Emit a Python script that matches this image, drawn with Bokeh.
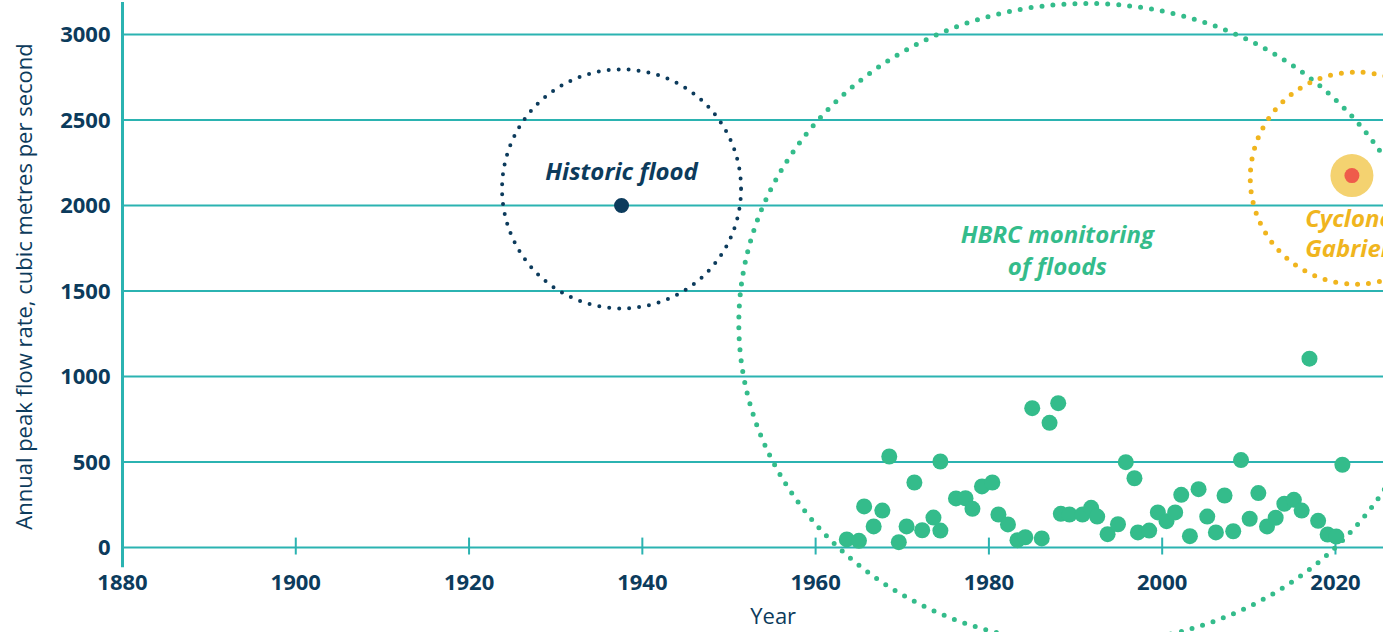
import math
from bokeh.plotting import figure
from bokeh.models import Range1d
from bokeh.core.properties import value
from bokeh.embed import file_html
from bokeh.resources import INLINE

# ---------------- data ----------------
years = [1963.6, 1965.0, 1965.6, 1966.7, 1967.7, 1968.5, 1969.6, 1970.5, 1971.4, 1972.3,
         1973.6, 1974.4, 1974.4, 1976.2, 1977.3, 1978.1, 1979.2, 1980.4, 1981.1, 1982.2,
         1983.3, 1984.2, 1985.0, 1986.1, 1987.0, 1988.0, 1988.3, 1989.3, 1990.8, 1991.8,
         1992.5, 1993.7, 1994.9, 1995.8, 1996.8, 1997.2, 1998.5, 1999.5, 2000.5, 2001.5,
         2002.2, 2003.2, 2004.2, 2005.2, 2006.2, 2007.2, 2008.2, 2009.1, 2010.1, 2011.1,
         2012.1, 2013.1, 2014.1, 2015.2, 2016.1, 2017.0, 2018.0, 2019.1, 2020.1, 2020.8]
flows = [47, 39, 240, 123, 216, 532, 31, 123, 380, 101,
         175, 503, 99, 287, 288, 226, 357, 380, 193, 135,
         43, 60, 815, 53, 729, 844, 197, 193, 193, 232,
         181, 78, 136, 499, 405, 88, 99, 205, 154, 205,
         308, 66, 341, 181, 88, 304, 95, 511, 168, 318,
         123, 174, 256, 279, 216, 1104, 156, 76, 64, 484]

historic_year = [1937.6]
historic_flow = [2000]
cyclone_year = [2021.9]
cyclone_flow = [2175]

y_ticks = [0, 500, 1000, 1500, 2000, 2500, 3000]
y_tick_labels = [str(t) for t in y_ticks]
x_ticks = [1880, 1900, 1920, 1940, 1960, 1980, 2000, 2020]
x_tick_labels = [str(t) for t in x_ticks]

# ---------------- style ----------------
NAVY = "#0c3b5c"
TEAL = "#2bb3b1"
GREEN = "#34bc8b"
YELLOW = "#f0b51e"
HALO = "#f4d270"
RED = "#ef5b4b"
FONT = "Open Sans"

PX_PER_YEAR = 8.664
PX_PER_UNIT = 0.171
AXIS_PX = 122      # screen x of 1880
ZERO_PX = 547      # screen y of 0
W, H = 1383, 632
X0 = 1880 - AXIS_PX / PX_PER_YEAR
X1 = 1880 + (W - AXIS_PX) / PX_PER_YEAR

p = figure(width=W, height=H, output_backend="svg", toolbar_location=None,
           x_range=Range1d(X0, X1),
           y_range=Range1d(-(H - ZERO_PX) / PX_PER_UNIT, ZERO_PX / PX_PER_UNIT),
           x_axis_location=None, y_axis_location=None,
           min_border_left=0, min_border_right=0, min_border_top=0, min_border_bottom=0)
p.outline_line_color = None
p.background_fill_color = "white"
p.border_fill_color = "white"
p.xgrid.visible = False
p.ygrid.visible = False

# horizontal grid lines (start at the axis line)
ny = len(y_ticks)
p.segment(x0=[x_ticks[0]] * ny, y0=y_ticks, x1=[X1 + 5] * ny, y1=y_ticks,
          line_color=TEAL, line_width=2)

# vertical axis line
p.segment(x0=[x_ticks[0]], y0=[-115], x1=[x_ticks[0]], y1=[3190], line_color=TEAL, line_width=3)
# x tick marks
n = len(x_ticks) - 1
p.segment(x0=x_ticks[1:], y0=[58] * n, x1=x_ticks[1:], y1=[-41] * n, line_color=TEAL, line_width=2)

# y tick labels
p.text(x=[x_ticks[0]] * ny, y=y_ticks, text=y_tick_labels, x_offset=-12,
       text_align="right", text_baseline="middle", text_font=value(FONT),
       text_font_style="bold", text_font_size="22px", text_color=NAVY)
# x tick labels
p.text(x=x_ticks, y=[-205] * len(x_ticks), text=x_tick_labels, text_align="center",
       text_baseline="middle", text_font=value(FONT), text_font_style="bold",
       text_font_size="22px", text_color=NAVY)
# axis titles
p.text(x=[1955.1], y=[-395], text=["Year"], text_align="center", text_baseline="middle",
       text_font=value(FONT), text_font_size="22px", text_color=NAVY)
p.text(x=[1880 - 100 / PX_PER_YEAR], y=[(ZERO_PX - 286) / PX_PER_UNIT],
       text=["Annual peak flow rate, cubic metres per second"], angle=math.pi / 2,
       text_align="center", text_baseline="middle", text_font=value(FONT),
       text_font_size="22px", text_color=NAVY)

# dotted rings
p.ellipse(x=[1991.3], y=[1310], width=696, height=640, width_units="screen", height_units="screen",
          fill_color=None, line_color=GREEN, line_width=5, line_dash="0 11", line_cap="round")
p.ellipse(x=[1937.6], y=[2097], width=239, height=239, width_units="screen", height_units="screen",
          fill_color=None, line_color=NAVY, line_width=4, line_dash="0 10", line_cap="round")
p.ellipse(x=[2022.4], y=[2160], width=212, height=212, width_units="screen", height_units="screen",
          fill_color=None, line_color=YELLOW, line_width=5, line_dash="0 11", line_cap="round")

# points
p.scatter(x=years, y=flows, size=16, fill_color=GREEN, line_color=None)
p.scatter(x=historic_year, y=historic_flow, size=15, fill_color=NAVY, line_color=None)
p.scatter(x=cyclone_year, y=cyclone_flow, size=43, fill_color=HALO, line_color=None)
p.scatter(x=cyclone_year, y=cyclone_flow, size=15, fill_color=RED, line_color=None)

# annotations
p.text(x=[1937.6], y=[2205], text=["Historic flood"], text_align="center", text_baseline="middle",
       text_font=value(FONT), text_font_style="bold italic", text_font_size="24px", text_color=NAVY)
p.text(x=[1987.9, 1987.9], y=[1836, 1650], text=["HBRC monitoring", "of floods"], text_align="center",
       text_baseline="middle", text_font=value(FONT), text_font_style="bold italic",
       text_font_size="24px", text_color=GREEN)
p.text(x=[2016.5, 2016.5], y=[1932, 1756], text=["Cyclone", "Gabrielle"], text_align="left",
       text_baseline="middle", text_font=value(FONT), text_font_style="bold italic",
       text_font_size="24px", text_color=YELLOW)

open("out.html", "w").write(file_html(p, INLINE))
